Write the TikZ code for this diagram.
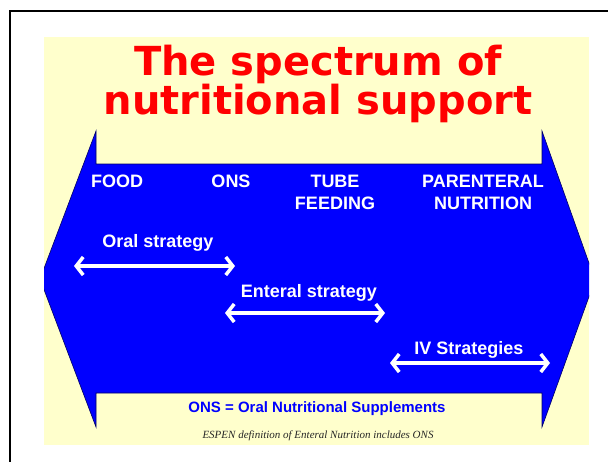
\documentclass[tikz,border=0pt]{standalone}
\usepackage{fontspec}
\setmainfont{Liberation Sans}
\newfontfamily\titlefont{DejaVu Sans}
\newfontfamily\notefont{Liberation Serif}
\usetikzlibrary{arrows.meta}

\definecolor{paleyellow}{RGB}{255,255,204}

\begin{document}
\begin{tikzpicture}[x=1pt, y=-1pt,
  lbl/.style={text=white, font=\bfseries\fontsize{18}{22}\selectfont, align=center, inner sep=0pt},
  strat/.style={white, line width=3.5pt, {Straight Barb[length=7pt,width=18pt]}-{Straight Barb[length=7pt,width=18pt]}}]
\clip (0,0) rectangle (608,461);
\draw [line width=2pt] (10,11) rectangle (640,480);
\fill [paleyellow] (44,37) rectangle (589,445);
\begin{scope}
\clip (44,37) rectangle (589,445);
\filldraw [fill=blue, draw=blue!40!black, line width=0.6pt] (40,279) -- (96,131) -- (96,164) -- (542,164) -- (542,131)
  -- (595,280) -- (542,427) -- (542,393) -- (96,393) -- (96,427) -- cycle;
\end{scope}
\node [text=red, font=\titlefont\bfseries\fontsize{40}{38}\selectfont, align=center, inner sep=0pt, anchor=north] (title) at (318,44.5) {The spectrum of\\nutritional support};
\node [lbl] (food) at (117,181) {FOOD};
\node [lbl] (ons) at (231,181) {ONS};
\node [lbl] (tube) at (335,192) {TUBE\\FEEDING};
\node [lbl] (pn) at (483,192) {PARENTERAL\\NUTRITION};
\node [lbl] (oral) at (158,243) {Oral strategy};
\node [lbl] (enteral) at (309,293) {Enteral strategy};
\node [lbl] (iv) at (469,350) {IV Strategies};
\coordinate (oralL) at (74,266);
\coordinate (oralR) at (235,266);
\coordinate (entL) at (225,313);
\coordinate (entR) at (385,313);
\coordinate (ivL) at (390,363);
\coordinate (ivR) at (550,363);
\draw [strat] (oralL) -- (oralR);
\draw [strat] (entL) -- (entR);
\draw [strat] (ivL) -- (ivR);
\node [text=blue, font=\bfseries\fontsize{15}{18}\selectfont] (onsdef) at (317,409) {ONS = Oral Nutritional Supplements};
\node [text=black!85, font=\notefont\itshape\fontsize{11}{13}\selectfont] (espen) at (318,436) {ESPEN definition of Enteral Nutrition includes ONS};
\end{tikzpicture}
\end{document}
